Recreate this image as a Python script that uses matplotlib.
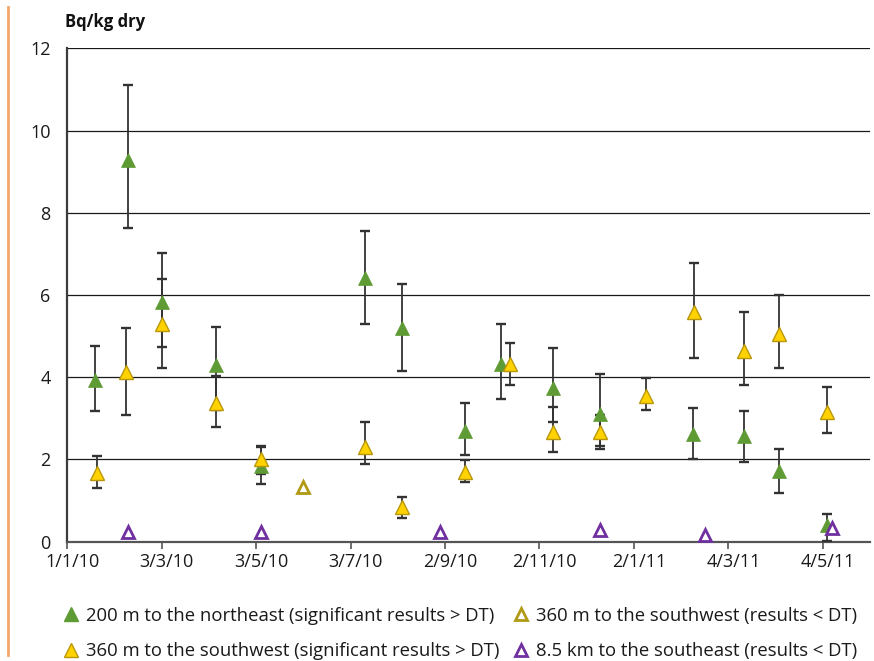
import numpy as np
import pandas as pd
import matplotlib
matplotlib.use('Agg')
import matplotlib.pyplot as plt
import matplotlib.dates as mdates
import matplotlib.transforms as mtransforms
from matplotlib.lines import Line2D
from matplotlib.ticker import FuncFormatter

plt.rcParams['font.family'] = ['Open Sans', 'DejaVu Sans']

# 200 m to the northeast (significant results > DT)
ne_dates = ['2010-01-19', '2010-02-09', '2010-03-03', '2010-04-07', '2010-05-06',
            '2010-07-12', '2010-08-05', '2010-09-15', '2010-10-08', '2010-11-11',
            '2010-12-11', '2011-02-09', '2011-03-14', '2011-04-06', '2011-05-07']
ne_val = [3.93, 9.29, 5.84, 4.29, 1.83, 6.41, 5.19, 2.70, 4.32, 3.73, 3.10, 2.63, 2.56, 1.72, 0.41]
ne_lo = [3.18, 7.64, 4.74, 3.20, 1.41, 5.30, 4.16, 2.11, 3.48, 2.90, 2.34, 2.02, 1.95, 1.19, 0.02]
ne_hi = [4.76, 11.10, 7.02, 5.22, 2.32, 7.56, 6.28, 3.37, 5.30, 4.71, 4.09, 3.25, 3.18, 2.26, 0.67]

# 360 m to the southwest (significant results > DT)
sw_dates = ['2010-01-20', '2010-02-08', '2010-03-03', '2010-04-07', '2010-05-06',
            '2010-07-12', '2010-08-05', '2010-09-15', '2010-10-14', '2010-11-11',
            '2010-12-11', '2011-01-10', '2011-02-10', '2011-03-14', '2011-04-06', '2011-05-07']
sw_val = [1.68, 4.12, 5.30, 3.37, 2.00, 2.31, 0.84, 1.70, 4.32, 2.66, 2.67, 3.55, 5.58, 4.64, 5.05, 3.16]
sw_lo = [1.30, 3.07, 4.23, 2.79, 1.65, 1.90, 0.58, 1.46, 3.82, 2.17, 2.26, 3.21, 4.48, 3.82, 4.23, 2.65]
sw_hi = [2.09, 5.20, 6.39, 4.03, 2.30, 2.91, 1.09, 1.99, 4.83, 3.28, 3.08, 3.97, 6.78, 5.59, 6.00, 3.76]

# 360 m to the southwest (results < DT)
swdt_dates = ['2010-06-02']
swdt_val = [1.34]

# 8.5 km to the southeast (results < DT)
se_dates = ['2010-02-09', '2010-05-06', '2010-08-30', '2010-12-11', '2011-02-17', '2011-05-10']
se_val = [0.24, 0.24, 0.24, 0.28, 0.16, 0.33]

labels = ['200 m to the northeast (significant results > DT)',
          '360 m to the southwest (significant results > DT)',
          '360 m to the southwest (results < DT)',
          '8.5 km to the southeast (results < DT)']

green = '#5f9b35'
yellow = '#ffd200'
yellow_edge = '#b8980a'
olive = '#b09a14'
purple = '#7030a0'

fig = plt.figure(figsize=(8.74, 6.61), dpi=100)
ax = fig.add_axes([67.3 / 874, 1 - 541.7 / 661, (870 - 67.3) / 874, (541.7 - 48.4) / 661])

ne_x = pd.to_datetime(ne_dates)
sw_x = pd.to_datetime(sw_dates)
ne_v = np.array(ne_val)
sw_v = np.array(sw_val)

eb = dict(fmt='none', ecolor='#333333', elinewidth=1.3, capsize=3.3, capthick=1.7, zorder=3)
ax.errorbar(ne_x, ne_v, yerr=[ne_v - np.array(ne_lo), np.array(ne_hi) - ne_v], **eb)
ax.errorbar(sw_x, sw_v, yerr=[sw_v - np.array(sw_lo), np.array(sw_hi) - sw_v], **eb)

ax.plot(ne_x, ne_v, '^', ms=10, color=green, mec=green, mew=0.5, ls='none', zorder=4)
ax.plot(sw_x, sw_v, '^', ms=10, color=yellow, mec=yellow_edge, mew=1.0, ls='none', zorder=5)
ax.plot(pd.to_datetime(swdt_dates), swdt_val, '^', ms=9, mfc='white', mec=olive, mew=2,
        ls='none', zorder=5)
ax.plot(pd.to_datetime(se_dates), se_val, '^', ms=9, mfc='white', mec=purple, mew=2,
        ls='none', zorder=5)

start = pd.Timestamp('2010-01-01')
ax.set_xlim(start, start + pd.Timedelta(days=518.5))
ax.set_ylim(0, 12)
ax.set_xticks(pd.date_range(start, periods=9, freq='61D'))
ax.xaxis.set_major_formatter(FuncFormatter(
    lambda v, p: (lambda d: f'{d.day}/{d.month}/{d:%y}')(mdates.num2date(v))))
ax.set_yticks(range(0, 13, 2))

ax.yaxis.grid(True, color='#1a1a1a', lw=0.9)
ax.set_axisbelow(True)
for s in ['top', 'right']:
    ax.spines[s].set_visible(False)
ax.spines['left'].set_color('#3c3c3c')
ax.spines['left'].set_linewidth(1.6)
ax.spines['bottom'].set_color('#555555')
ax.spines['bottom'].set_linewidth(1.6)
ax.tick_params(axis='y', length=0, pad=12, labelsize=13, colors='#1a1a1a')
ax.tick_params(axis='x', direction='out', length=5, width=1.2, color='#555555',
               pad=3, labelsize=13, labelcolor='#1a1a1a')

shift = mtransforms.ScaledTranslation(5 / 100, 0, fig.dpi_scale_trans)
for lab in ax.get_xticklabels():
    lab.set_transform(lab.get_transform() + shift)

fig.text(65 / 874, 1 - 22 / 661, 'Bq/kg dry', fontsize=12, fontweight='bold',
         ha='left', va='center', color='#111111')

# orange page rule on the left
fig.add_artist(Line2D([8 / 874, 8 / 874], [1 - 655 / 661, 1 - 7 / 661],
                      transform=fig.transFigure, color='#f4a76a', lw=2))

handles = [
    Line2D([], [], marker='^', ls='none', ms=10, color=green, mec=green),
    Line2D([], [], marker='^', ls='none', ms=10, color=yellow, mec=yellow_edge),
    Line2D([], [], marker='^', ls='none', ms=9, mfc='white', mec=olive, mew=2),
    Line2D([], [], marker='^', ls='none', ms=9, mfc='white', mec=purple, mew=2),
]
fig.legend(handles, labels, ncol=2, loc='upper left', bbox_to_anchor=(47 / 874, 1 - 590 / 661),
           frameon=False, fontsize=13.3, handlelength=0.8, handletextpad=0.4,
           columnspacing=0.8, labelspacing=0.95, labelcolor='#1a1a1a')

fig.savefig('out.png', dpi=100)
